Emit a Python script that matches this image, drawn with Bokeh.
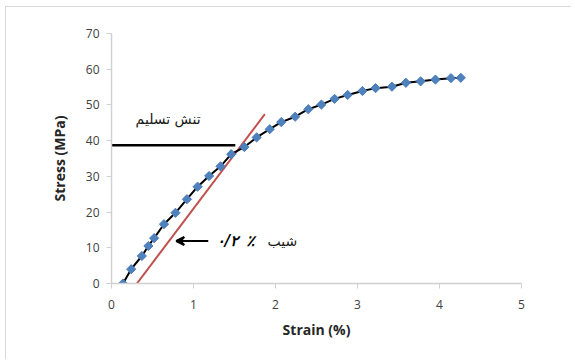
from bokeh.plotting import figure
from bokeh.models import Range1d, Arrow, VeeHead, FixedTicker
from bokeh.core.properties import value
from bokeh.embed import file_html
from bokeh.resources import INLINE
import numpy as np

# Data
strain = [0.14, 0.24, 0.37, 0.45, 0.52, 0.64, 0.78, 0.92, 1.05, 1.19, 1.33, 1.46,
          1.62, 1.77, 1.93, 2.07, 2.24, 2.40, 2.56, 2.72, 2.88, 3.06, 3.22, 3.42,
          3.59, 3.77, 3.95, 4.14, 4.26]
stress = [0.0, 4.0, 7.7, 10.5, 12.7, 16.6, 19.8, 23.6, 27.1, 30.1, 32.8, 36.2,
          38.2, 40.9, 43.2, 45.2, 46.7, 48.8, 50.1, 51.7, 52.8, 53.9, 54.7, 55.1,
          56.2, 56.6, 57.1, 57.5, 57.6]
offset_x = [0.31, 1.87]
offset_y = [0.0, 47.4]
yield_x = [0.0, 1.51]
yield_y = [38.7, 38.7]
x_ticks = [0, 1, 2, 3, 4, 5]
y_ticks = [0, 10, 20, 30, 40, 50, 60, 70]
yield_label = "تنش تسلیم"
slope_word = "شیب"
slope_pct = "٪"
slope_num = "۰/۲"

W, H = 565, 352
p = figure(width=W, height=H, output_backend="svg", toolbar_location=None,
           x_range=Range1d(0, 5), y_range=Range1d(0, 70),
           min_border_left=105, min_border_right=50,
           min_border_top=26, min_border_bottom=76)
p.frame_width = 410
p.frame_height = 250
p.outline_line_color = None
p.grid.visible = False
p.background_fill_color = "white"
p.border_fill_color = "white"
p.styles = {"margin": "6px 0px 0px 5px",
            "border-top": "1px solid #d9d9d9", "border-left": "1px solid #d9d9d9"}

axis_font = "Open Sans"
for ax in (p.xaxis[0], p.yaxis[0]):
    ax.axis_line_color = "#d0d0d0"
    ax.axis_line_width = 1.5
    ax.major_tick_line_color = "#d0d0d0"
    ax.major_tick_out = 5
    ax.major_tick_in = 0
    ax.minor_tick_line_color = None
    ax.major_label_text_font = axis_font
    ax.major_label_text_font_size = "12px"
    ax.major_label_text_color = "#404040"
    ax.axis_label_text_font = axis_font
    ax.axis_label_text_font_size = "14px"
    ax.axis_label_text_font_style = "bold"
    ax.axis_label_text_color = "#262626"

p.xaxis.ticker = FixedTicker(ticks=x_ticks)
p.yaxis.ticker = FixedTicker(ticks=y_ticks)
p.xaxis.axis_label = "Strain (%)"
p.yaxis.axis_label = "Stress (MPa)"
p.xaxis.major_label_standoff = 11
p.xaxis.axis_label_standoff = 8
p.yaxis.major_label_standoff = 7
p.yaxis.axis_label_standoff = 14

# offset (0.2%) line
p.line(offset_x, offset_y, line_color="#C0504D", line_width=2)
# yield stress line
p.line(yield_x, yield_y, line_color="black", line_width=2.5)
# curve
p.line(strain, stress, line_color="black", line_width=2)
p.scatter(strain, stress, marker="square", angle=np.pi / 4, size=6.5,
          fill_color="#4F81BD", line_color="#4A7EBB", line_width=1)

# annotations
p.text(x=[0.69], y=[46.1], text=[yield_label], text_font=value("DejaVu Sans"),
       text_font_size="14px", text_align="center", text_baseline="middle",
       text_color="#1a1a1a")
p.add_layout(Arrow(end=VeeHead(size=8, line_color="black", line_width=2),
                   x_start=1.18, y_start=11.9, x_end=0.79, y_end=11.9,
                   line_color="black", line_width=2))
p.text(x=[2.085], y=[11.9], text=[slope_word], text_font=value("DejaVu Sans"),
       text_font_size="14px", text_align="center", text_baseline="middle",
       text_color="#1a1a1a")
p.text(x=[1.695], y=[11.9], text=[slope_pct], text_font=value("DejaVu Sans"),
       text_font_size="15px", text_font_style="bold italic", text_align="center",
       text_baseline="middle", text_color="black")
p.text(x=[1.415], y=[11.9], text=[slope_num], text_font=value("DejaVu Sans"),
       text_font_size="15px", text_font_style="bold italic", text_align="center",
       text_baseline="middle", text_color="black")

open("out.html", "w").write(file_html(p, INLINE))
